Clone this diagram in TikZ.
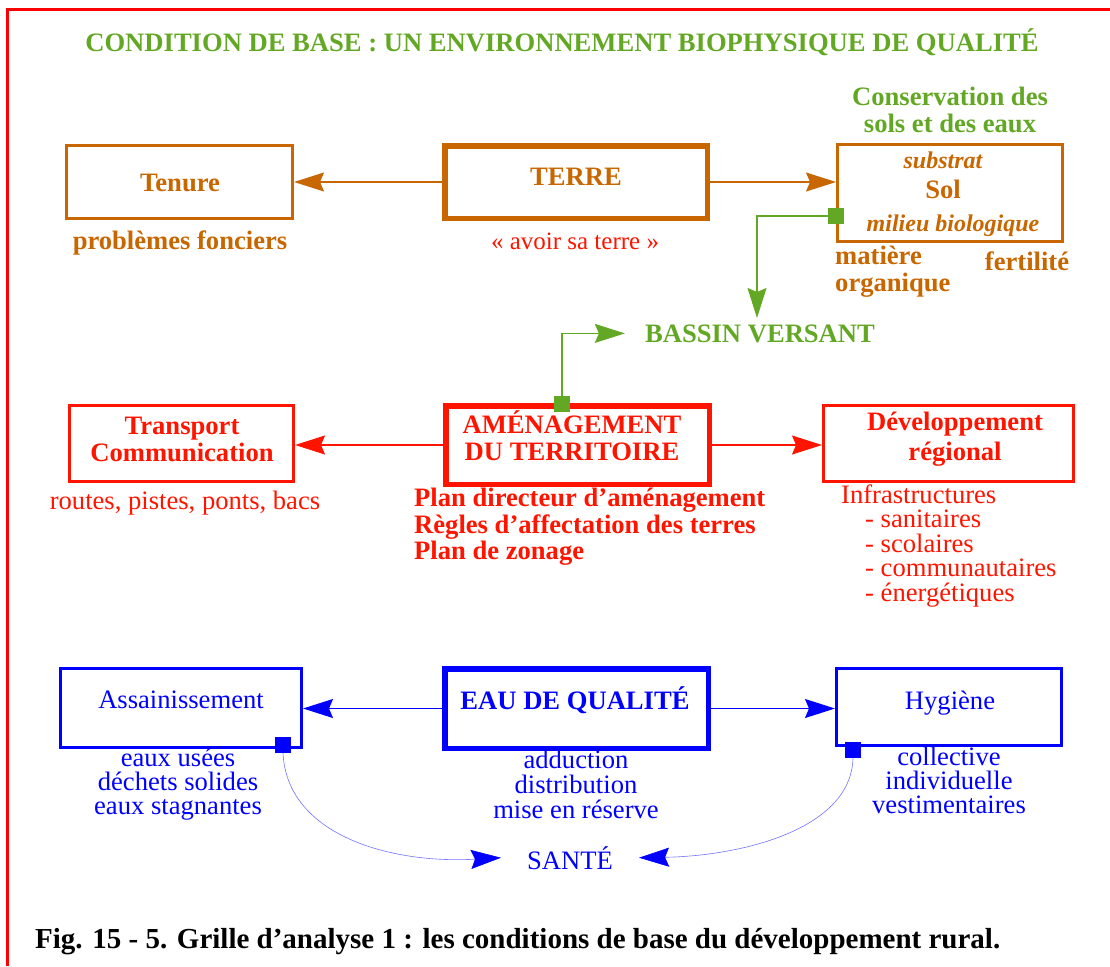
\documentclass[tikz,border=0pt]{standalone}
\usepackage{fontspec}
\setmainfont{Liberation Serif}
\usetikzlibrary{arrows.meta}
\definecolor{brn}{RGB}{200,102,0}
\definecolor{grn}{RGB}{99,168,36}
\definecolor{rd}{RGB}{255,20,0}
\definecolor{frm}{RGB}{255,0,0}
\definecolor{bl}{RGB}{0,0,255}
\begin{document}
\begin{tikzpicture}[x=1pt,y=-1pt,
  tip/.style={-{Stealth[length=30pt,width=19pt,inset=4pt]}},
  link/.style={line width=1.2pt, tip},
  box/.style={draw, line width=3pt, inner sep=0pt},
  mainbox/.style={draw, line width=5.5pt, inner sep=0pt},
  knob/.style={fill, inner sep=0pt, minimum size=16pt},
  bt/.style={inner sep=0pt, font=\bfseries\fontsize{26.6}{27}\selectfont},
  bit/.style={inner sep=0pt, font=\bfseries\itshape\fontsize{24}{26}\selectfont},
  rt/.style={inner sep=0pt, font=\fontsize{26.6}{24}\selectfont},
]
\useasboundingbox (0,0) rectangle (1110,966);

% frame
\draw[frm, line width=3pt] (7,966) -- (7,10) -- (1110,10);

% title
\node[bt, grn, anchor=base] (title) at (562,52) {CONDITION DE BASE : UN ENVIRONNEMENT BIOPHYSIQUE DE QUALITÉ};

% ---- land row ----
\node[box, brn, minimum width=226pt, minimum height=73pt] (tenure) at (179.5,182) {};
\node[bt, brn, anchor=base] (tenureT) at (180,191) {Tenure};
\node[bt, brn, anchor=base] (foncier) at (180,249) {problèmes fonciers};

\node[mainbox, brn, minimum width=262.5pt, minimum height=72.5pt] (terre) at (576,182) {};
\node[bt, brn, anchor=base] (terreT) at (576,185) {TERRE};
\node[rt, rd, anchor=base, font=\fontsize{25}{25}\selectfont] (avoir) at (575,249) {« avoir sa terre »};

\node[box, brn, minimum width=225pt, minimum height=97pt] (sol) at (950,193) {};
\node[bit, brn, anchor=base] (substrat) at (943,168) {substrat};
\node[bt, brn, anchor=base] (solT) at (943,198) {Sol};
\node[bit, brn, anchor=base] (milieu) at (953,231) {milieu biologique};
\node[bt, grn, align=center] (conserv) at (950,109.5) {Conservation des\\sols et des eaux};
\node[bt, brn, align=left, anchor=west] (matiere) at (835,272) {matière\\organique};
\node[bt, brn, anchor=base] (fert) at (1027,270) {fertilité};
\node[knob, grn] (sqA) at (836,216) {};

\node[bt, grn, anchor=base] (bassin) at (760,342) {BASSIN VERSANT};
\coordinate (drop) at (757,318);

\draw[link, brn] (terre.west) -- (tenure.east);
\draw[link, brn] (terre.east) -- (terre.east -| sol.west);
\draw[link, grn] (sqA.west) -| (drop);

% ---- planning row ----
\node[box, rd, minimum width=224pt, minimum height=76pt] (transport) at (181.5,443) {};
\node[bt, rd, align=center] (transportT) at (182,439) {Transport\\Communication};
\node[rt, rd, anchor=base] (routes) at (185,509) {routes, pistes, ponts, bacs};

\node[mainbox, rd, minimum width=263.5pt, minimum height=78.5pt] (amen) at (577.5,445) {};
\node[bt, rd, align=center] (amenT) at (572,435.5) {AMÉNAGEMENT\\DU TERRITOIRE};
\node[knob, grn] (sqB) at (562,404) {};
\node[bt, rd, align=left, anchor=west, font=\bfseries\fontsize{26.6}{26.5}\selectfont] (plans) at (414,527)
  {Plan directeur d’aménagement\\Règles d’affectation des terres\\Plan de zonage};

\node[box, rd, minimum width=250pt, minimum height=76pt] (dev) at (948.5,443.5) {};
\node[bt, rd, align=center, font=\bfseries\fontsize{26.6}{30}\selectfont] (devT) at (955,439.5) {Développement\\régional};
\node[rt, rd, align=left, anchor=west, font=\fontsize{26.6}{24.5}\selectfont] (infra) at (841,545.5)
  {Infrastructures\\\hspace*{24pt}- sanitaires\\\hspace*{24pt}- scolaires\\\hspace*{24pt}- communautaires\\\hspace*{24pt}- énergétiques};

\draw[link, rd] (amen.west) -- (amen.west -| transport.east);
\draw[link, rd] (amen.east) -- (amen.east -| dev.west);
\draw[link, grn] (sqB.north) |- ([xshift=-20pt]bassin.west);

% ---- water row ----
\node[box, bl, minimum width=241pt, minimum height=79pt] (assain) at (181,708) {};
\node[rt, bl, anchor=base] (assainT) at (181,708) {Assainissement};
\node[rt, bl, align=center] (eaux) at (178,784) {eaux usées\\déchets solides\\eaux stagnantes};
\node[knob, bl] (sqC) at (283,745) {};

\node[mainbox, bl, minimum width=263.5pt, minimum height=79.5pt] (eau) at (576.5,708.5) {};
\node[bt, bl, anchor=base] (eauT) at (575,709) {EAU DE QUALITÉ};
\node[rt, bl, align=center, font=\fontsize{26.6}{25}\selectfont] (adduc) at (576,784) {adduction\\distribution\\mise en réserve};

\node[box, bl, minimum width=225pt, minimum height=77pt] (hyg) at (949,707) {};
\node[rt, bl, anchor=base] (hygT) at (950,709) {Hygiène};
\node[rt, bl, align=center] (hygL) at (949,780.5) {collective\\individuelle\\vestimentaires};
\node[knob, bl] (sqD) at (853,750) {};

\node[rt, bl, anchor=base] (sante) at (570,869) {SANTÉ};

\draw[link, bl] (eau.west) -- (eau.west -| assain.east);
\draw[link, bl] (eau.east) -- (eau.east -| hyg.west);
\draw[bl!55, line width=0.6pt, -{Stealth[length=30pt,width=19pt,inset=4pt,color=bl]}]
  (sqC.south) .. controls (287,835) and (390,864) .. ([xshift=-26pt]sante.west);
\draw[bl!55, line width=0.6pt, -{Stealth[length=30pt,width=19pt,inset=4pt,color=bl]}]
  (sqD.south) .. controls (851,830) and (740,856) .. ([xshift=26pt]sante.east);

% caption
\node[anchor=base west, inner sep=0pt, font=\bfseries\fontsize{29}{30}\selectfont] (caption) at (35,948) {Fig. 15 - 5. Grille d’analyse 1 : les conditions de base du développement rural.};
\end{tikzpicture}
\end{document}
